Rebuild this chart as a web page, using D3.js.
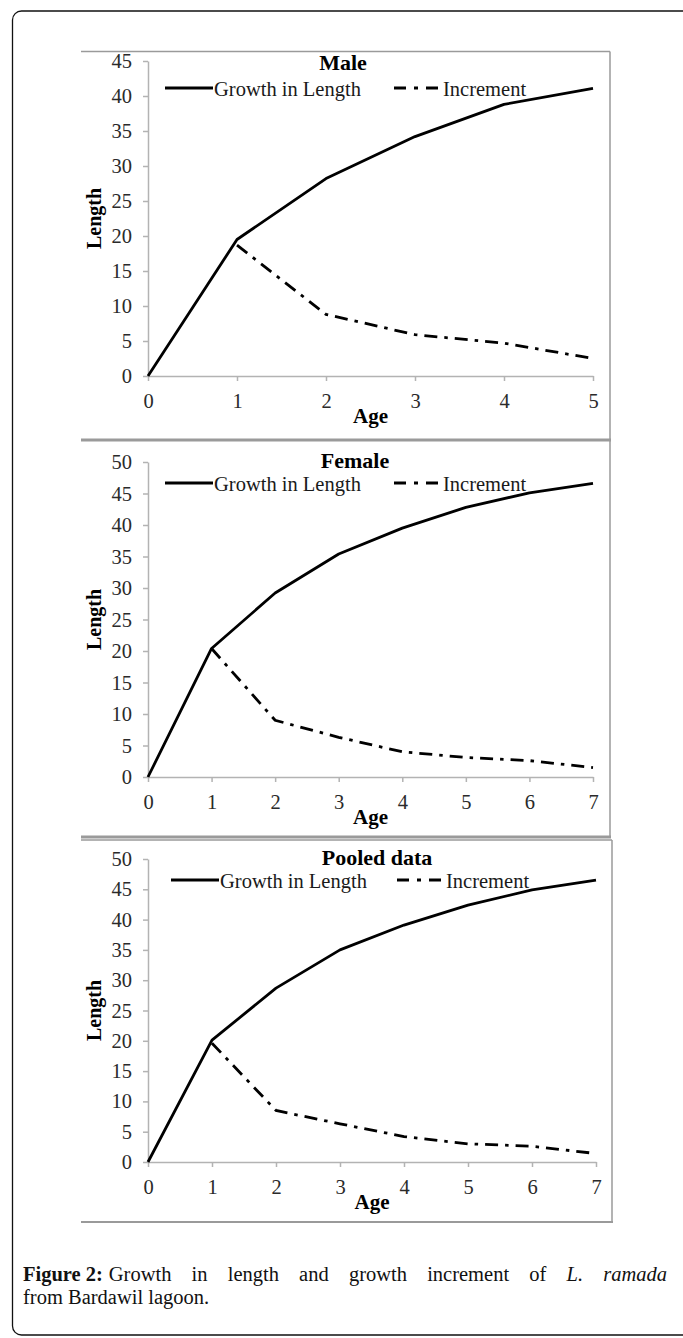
<!DOCTYPE html>
<html>
<head>
<meta charset="utf-8">
<script src="https://cdn.jsdelivr.net/npm/d3@7"></script>
<style>
body { margin: 0; background: #fff; }
svg text { font-family: "Liberation Serif", "Times New Roman", serif; }
</style>
</head>
<body>
<svg id="fig" width="683" height="1338"></svg>
<script>
// data
var ages5 = [0, 1, 2, 3, 4, 5];
var ages7 = [0, 1, 2, 3, 4, 5, 6, 7];
var maleGrowth = [0, 19.5, 28.2, 34.2, 38.8, 41.1];
var maleIncrement = [null, 18.7, 8.8, 5.9, 4.7, 2.5];
var femaleGrowth = [0, 20.4, 29.2, 35.4, 39.5, 42.8, 45.1, 46.6];
var femaleIncrement = [null, 20.4, 9.0, 6.3, 4.0, 3.1, 2.6, 1.5];
var pooledGrowth = [0, 20.1, 28.7, 35.0, 39.1, 42.4, 44.9, 46.5];
var pooledIncrement = [null, 19.6, 8.5, 6.3, 4.2, 3.0, 2.6, 1.4];
var maleTicks = [0, 5, 10, 15, 20, 25, 30, 35, 40, 45];
var fiftyTicks = [0, 5, 10, 15, 20, 25, 30, 35, 40, 45, 50];
var panelTitles = ["Male", "Female", "Pooled data"];
var legendLabels = ["Growth in Length", "Increment"];

var svg = d3.select("#fig");
var serif = '"Liberation Serif", "Times New Roman", serif';
var incDash = "13,7,3.5,7";

// outer frame
svg.append("rect")
    .attr("x", 12.5).attr("y", 11)
    .attr("width", 720).attr("height", 1324)
    .attr("rx", 9)
    .attr("fill", "none")
    .attr("stroke", "#111")
    .attr("stroke-width", 1.3);

// layout of each panel (positions only)
var panels = [
    {title: panelTitles[0], ages: ages5, growth: maleGrowth, inc: maleIncrement, ticks: maleTicks, yMax: 45,
     x0: 148, x1: 593, yTop: 61, yBot: 376, fTop: 51.5, fBot: 440, fRight: 610, fBw: 3,
     titleX: 343, titleY: 70, legY: 88, legX: 165, incX: 394},
    {title: panelTitles[1], ages: ages7, growth: femaleGrowth, inc: femaleIncrement, ticks: fiftyTicks, yMax: 50,
     x0: 148, x1: 593, yTop: 462, yBot: 777, fTop: 440, fBot: 837, fRight: 610, fBw: 3,
     titleX: 355, titleY: 467.5, legY: 483, legX: 165, incX: 394},
    {title: panelTitles[2], ages: ages7, growth: pooledGrowth, inc: pooledIncrement, ticks: fiftyTicks, yMax: 50,
     x0: 148, x1: 596, yTop: 859, yBot: 1162, fTop: 840, fBot: 1222, fRight: 612, fBw: 2,
     titleX: 377, titleY: 865, legY: 880, legX: 171, incX: 397}
];

panels.forEach(function(p) {
    var g = svg.append("g");

    // gray panel frame
    g.append("line").attr("x1", 81).attr("x2", p.fRight).attr("y1", p.fTop).attr("y2", p.fTop)
        .attr("stroke", "#9a9a9a").attr("stroke-width", 1.5);
    g.append("line").attr("x1", p.fRight).attr("x2", p.fRight).attr("y1", p.fTop).attr("y2", p.fBot)
        .attr("stroke", "#9a9a9a").attr("stroke-width", 1.5);
    g.append("line").attr("x1", 81).attr("x2", p.fRight + 1).attr("y1", p.fBot).attr("y2", p.fBot)
        .attr("stroke", "#9a9a9a").attr("stroke-width", p.fBw);

    var x = d3.scaleLinear().domain([0, p.ages[p.ages.length - 1]]).range([p.x0, p.x1]);
    var y = d3.scaleLinear().domain([0, p.yMax]).range([p.yBot, p.yTop]);

    var yAxis = g.append("g")
        .attr("transform", "translate(" + p.x0 + ",0)")
        .call(d3.axisLeft(y).tickValues(p.ticks).tickSize(5).tickSizeOuter(0).tickPadding(11));
    var xAxis = g.append("g")
        .attr("transform", "translate(0," + p.yBot + ")")
        .call(d3.axisBottom(x).tickValues(p.ages).tickFormat(d3.format("d")).tickSize(5).tickSizeOuter(0).tickPadding(12));

    [yAxis, xAxis].forEach(function(a) {
        a.attr("font-family", serif).attr("font-size", 20.5);
        a.select(".domain").attr("stroke", "#b3b3b3").attr("stroke-width", 1.5);
        a.selectAll(".tick line").attr("stroke", "#b3b3b3").attr("stroke-width", 1.5);
        a.selectAll(".tick text").attr("fill", "#2a2a2a");
    });

    // series
    var line = d3.line()
        .defined(function(d) { return d != null; })
        .x(function(d, i) { return x(p.ages[i]); })
        .y(function(d) { return y(d); });

    g.append("path").datum(p.growth)
        .attr("d", line)
        .attr("fill", "none").attr("stroke", "#000").attr("stroke-width", 2.8)
        .attr("stroke-linejoin", "round");
    g.append("path").datum(p.inc)
        .attr("d", line)
        .attr("fill", "none").attr("stroke", "#000").attr("stroke-width", 2.8)
        .attr("stroke-dasharray", incDash);

    // title
    g.append("text")
        .attr("x", p.titleX).attr("y", p.titleY)
        .attr("text-anchor", "middle")
        .attr("font-weight", "bold").attr("font-size", 22)
        .text(p.title);

    // legend
    g.append("line").attr("x1", p.legX).attr("x2", p.legX + 48).attr("y1", p.legY).attr("y2", p.legY)
        .attr("stroke", "#000").attr("stroke-width", 2.8);
    g.append("text").attr("x", p.legX + 49).attr("y", p.legY + 8)
        .attr("font-size", 20.5).attr("fill", "#1a1a1a")
        .text(legendLabels[0]);
    g.append("line").attr("x1", p.incX).attr("x2", p.incX + 48).attr("y1", p.legY).attr("y2", p.legY)
        .attr("stroke", "#000").attr("stroke-width", 2.8)
        .attr("stroke-dasharray", "12,8,4,8");
    g.append("text").attr("x", p.incX + 49).attr("y", p.legY + 8)
        .attr("font-size", 20.5).attr("fill", "#1a1a1a")
        .text(legendLabels[1]);

    // axis titles
    g.append("text")
        .attr("x", (p.x0 + p.x1) / 2).attr("y", p.yBot + 47)
        .attr("text-anchor", "middle")
        .attr("font-weight", "bold").attr("font-size", 21)
        .text("Age");
    g.append("text")
        .attr("transform", "translate(101," + (p.yTop + p.yBot) / 2 + ") rotate(-90)")
        .attr("text-anchor", "middle")
        .attr("font-weight", "bold").attr("font-size", 20)
        .text("Length");
});

// caption, first line justified between 23 and 667
var capWords = [
    {t: "Figure", w: "bold"}, {t: "2:", w: "bold"}, {t: "Growth"}, {t: "in"}, {t: "length"},
    {t: "and"}, {t: "growth"}, {t: "increment"}, {t: "of"}, {t: "L.", s: "italic"}, {t: "ramada", s: "italic"}
];
var cap = svg.append("g").attr("font-size", 20.5).attr("fill", "#111");
var nodes = capWords.map(function(c) {
    return cap.append("text")
        .attr("y", 1281)
        .attr("font-weight", c.w || "normal")
        .attr("font-style", c.s || "normal")
        .text(c.t);
});
var widths = nodes.map(function(n) { return n.node().getComputedTextLength(); });
// bold "Figure 2:" keeps tight spaces, the rest spread out
var gap = (667 - 23 - d3.sum(widths) - 11) / (nodes.length - 3);
var cx = 23;
nodes.forEach(function(n, i) {
    n.attr("x", cx);
    cx += widths[i] + (i === 0 ? 5 : (i === 1 ? 6 : gap));
});
cap.append("text").attr("x", 23).attr("y", 1304).text("from Bardawil lagoon.");
</script>
</body>
</html>
